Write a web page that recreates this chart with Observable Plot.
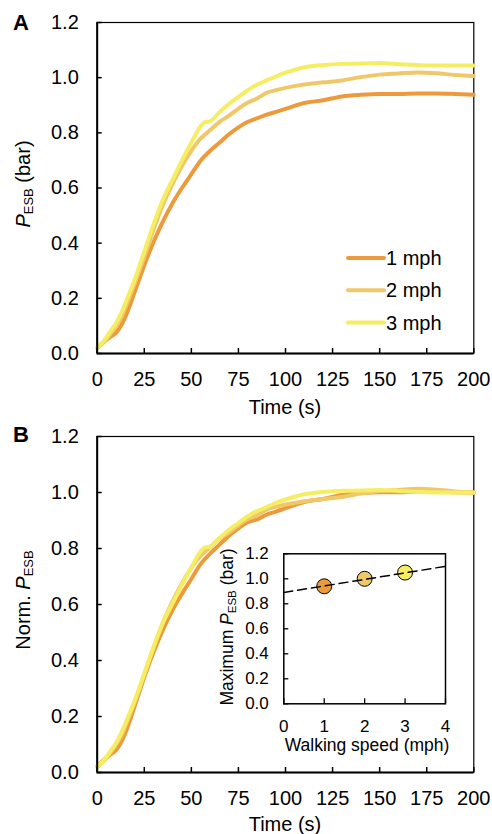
<!DOCTYPE html>
<html><head><meta charset="utf-8">
<script src="https://cdn.jsdelivr.net/npm/d3@7"></script>
<script src="https://cdn.jsdelivr.net/npm/@observablehq/plot@0.6"></script>
<style>
body{margin:0;background:#fff;}
#wrap{position:relative;width:492px;height:834px;overflow:hidden;font-family:"Liberation Sans",Arial,sans-serif;}
#wrap > svg{position:absolute;}
</style></head><body><div id="wrap"></div>
<script>
// ---- data ----
const time = [0,4,8,10,13,16,20,25,30,35,40,45,50,55,57,60,65,70,75,80,85,90,95,100,110,120,130,140,150,160,170,180,190,200];
const pesb1 = [0.02,0.045,0.065,0.075,0.105,0.15,0.225,0.32,0.405,0.48,0.545,0.60,0.65,0.70,0.715,0.735,0.765,0.795,0.82,0.84,0.853,0.866,0.876,0.887,0.908,0.918,0.932,0.938,0.941,0.941,0.943,0.943,0.941,0.938];
const pesb2 = [0.02,0.045,0.08,0.10,0.135,0.185,0.255,0.35,0.45,0.54,0.615,0.68,0.735,0.78,0.792,0.81,0.84,0.862,0.888,0.91,0.925,0.945,0.955,0.963,0.975,0.983,0.99,1.002,1.011,1.015,1.019,1.016,1.01,1.006];
const pesb3 = [0.02,0.05,0.09,0.11,0.15,0.20,0.27,0.37,0.47,0.56,0.63,0.70,0.765,0.825,0.838,0.842,0.875,0.905,0.93,0.955,0.975,0.99,1.005,1.018,1.038,1.046,1.05,1.051,1.053,1.049,1.046,1.044,1.044,1.044];
const norm1 = [0.021,0.048,0.069,0.080,0.112,0.160,0.239,0.340,0.431,0.511,0.580,0.638,0.691,0.745,0.761,0.782,0.814,0.846,0.872,0.894,0.904,0.921,0.932,0.944,0.966,0.977,0.991,0.998,1.001,1.001,1.003,1.003,1.001,1.0];
const norm2 = [0.020,0.045,0.080,0.099,0.134,0.184,0.253,0.348,0.447,0.537,0.611,0.676,0.731,0.775,0.787,0.805,0.835,0.857,0.883,0.905,0.919,0.939,0.949,0.957,0.969,0.977,0.984,0.996,1.005,1.009,1.013,1.010,1.004,1.0];
const norm3 = [0.019,0.048,0.086,0.105,0.144,0.192,0.259,0.354,0.450,0.536,0.603,0.670,0.733,0.790,0.803,0.807,0.838,0.867,0.891,0.915,0.934,0.948,0.963,0.975,0.994,1.002,1.006,1.007,1.009,1.005,1.002,1.0,1.0,1.0];
const seriesNames = ["1 mph","2 mph","3 mph"];
const seriesColors = ["#EC9A3B","#EFC86A","#F6EE62"];
const speeds = [1,2,3];
const maxP = [0.94,1.00,1.05];
const fitSpeed = [0,4];
const fitP = [0.89,1.10];
const xTicks = [0,25,50,75,100,125,150,175,200];
const yTicks = [0,0.2,0.4,0.6,0.8,1.0,1.2];
const insetXTicks = [0,1,2,3,4];

const FONT = "'Liberation Sans', Arial, sans-serif";
const wrap = document.getElementById("wrap");
const f1 = d3.format(".1f");

function panel(series, top, height, mt, mb) {
  const rows = [];
  series.forEach((vals, s) => vals.forEach((v, i) => rows.push({t: time[i], v, s: seriesNames[s]})));
  const svg = Plot.plot({
    width: 492, height,
    marginLeft: 96.7, marginRight: 18.7, marginTop: mt, marginBottom: mb,
    style: {fontFamily: FONT, fontSize: "20px", background: "transparent", overflow: "visible", color: "black"},
    x: {domain: [0, 200]},
    y: {domain: [0, 1.2]},
    color: {domain: seriesNames, range: seriesColors},
    marks: [
      Plot.frame({stroke: "black", strokeWidth: 1.2}),
      Plot.line(rows, {x: "t", y: "v", z: "s", stroke: "s", strokeWidth: 4, curve: "monotone-x"}),
      Plot.axisX({ticks: xTicks, tickSize: -5, tickPadding: 23.7, strokeWidth: 1.5, label: null, tickFormat: d => String(d)}),
      Plot.axisY({ticks: yTicks, tickSize: -5, tickPadding: 23.4, strokeWidth: 1.5, label: null, tickFormat: f1}),
      Plot.ruleX([0], {strokeWidth: 2}),
      Plot.ruleY([0], {strokeWidth: 2})
    ]
  });
  svg.style.top = top + "px";
  svg.style.left = "0px";
  wrap.append(svg);
}

panel([pesb1, pesb2, pesb3], 0, 430, 22, 77);
panel([norm1, norm2, norm3], 400, 434, 36, 62);

const inset = Plot.plot({
  width: 230, height: 230,
  marginLeft: 53.3, marginRight: 15, marginTop: 23.3, marginBottom: 56.7,
  style: {fontFamily: FONT, fontSize: "17px", background: "transparent", overflow: "visible", color: "black"},
  x: {domain: [0, 4]},
  y: {domain: [0, 1.2]},
  marks: [
    Plot.frame({stroke: "black", strokeWidth: 1.5, fill: "white"}),
    Plot.axisX({ticks: insetXTicks, tickSize: -5, tickPadding: 21, strokeWidth: 1.3, label: null, tickFormat: d => String(d)}),
    Plot.axisY({ticks: yTicks, tickSize: -5, tickPadding: 20, strokeWidth: 1.3, label: null, tickFormat: f1}),
    Plot.dot(speeds, {x: d => d, y: (d, i) => maxP[i], fill: (d, i) => seriesColors[i], stroke: "black", strokeWidth: 1, r: 7.5}),
    Plot.line(fitSpeed, {x: d => d, y: (d, i) => fitP[i], stroke: "black", strokeWidth: 1.5, strokeDasharray: "9,5"})
  ]
});
inset.style.top = "530px";
inset.style.left = "230px";
wrap.append(inset);

// ---- overlay texts ----
const NS = "http://www.w3.org/2000/svg";
const ov = document.createElementNS(NS, "svg");
ov.setAttribute("width", 492); ov.setAttribute("height", 834);
ov.style.left = "0px"; ov.style.top = "0px"; ov.style.pointerEvents = "none";
ov.style.fontFamily = FONT;
let html = `
<text x="13" y="30" font-size="22" font-weight="bold">A</text>
<text x="13" y="442" font-size="22" font-weight="bold">B</text>
<text transform="translate(29.6,184) rotate(-90)" text-anchor="middle" font-size="20"><tspan font-style="italic">P</tspan><tspan font-size="13" dy="3">ESB</tspan><tspan dy="-3"> (bar)</tspan></text>
<text x="285" y="414" text-anchor="middle" font-size="20">Time (s)</text>
<text transform="translate(30,600) rotate(-90)" text-anchor="middle" font-size="20">Norm. <tspan font-style="italic">P</tspan><tspan font-size="13" dy="3">ESB</tspan></text>
<text x="285" y="831" text-anchor="middle" font-size="20">Time (s)</text>
<text transform="translate(233,627) rotate(-90)" text-anchor="middle" font-size="17.5">Maximum <tspan font-style="italic">P</tspan><tspan font-size="11.5" dy="3">ESB</tspan><tspan dy="-3"> (bar)</tspan></text>
<text x="367" y="751" text-anchor="middle" font-size="17.5">Walking speed (mph)</text>`;
seriesNames.forEach((name, i) => {
  const cy = 258 + i * 32.3;
  html += `<line x1="348" x2="384" y1="${cy}" y2="${cy}" stroke="${seriesColors[i]}" stroke-width="4" stroke-linecap="round"/>`;
  html += `<text x="386" y="${cy + 7}" font-size="20">${name}</text>`;
});
ov.innerHTML = html;
wrap.append(ov);
</script>
</body></html>
